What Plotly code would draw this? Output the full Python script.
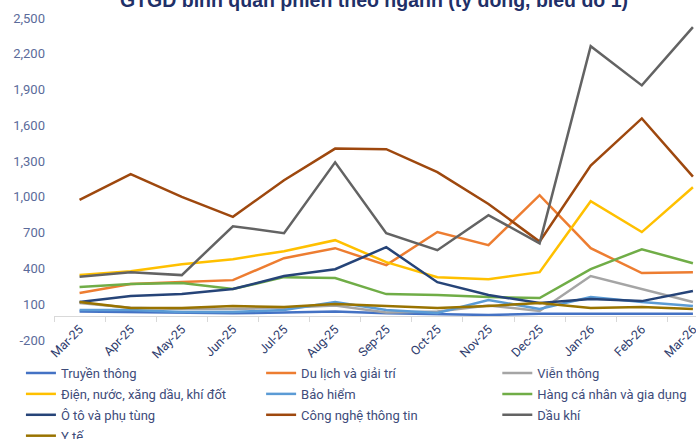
import plotly.graph_objects as go

months = ["Mar-25", "Apr-25", "May-25", "Jun-25", "Jul-25", "Aug-25", "Sep-25",
          "Oct-25", "Nov-25", "Dec-25", "Jan-26", "Feb-26", "Mar-26"]

truyen_thong = [40, 35, 30, 25, 30, 40, 25, 15, 10, 20, 20, 20, 20]
du_lich = [194, 269, 286, 302, 486, 570, 428, 705, 595, 1014, 570, 361, 369]
vien_thong = [110, 70, 60, 60, 70, 90, 30, 40, 90, 43, 336, 227, 118]
dien_nuoc = [344, 377, 436, 478, 545, 637, 453, 327, 310, 369, 964, 705, 1081]
bao_hiem = [52, 52, 35, 35, 52, 118, 52, 27, 136, 60, 160, 118, 85]
hang_ca_nhan = [244, 269, 277, 227, 327, 320, 185, 177, 160, 152, 394, 561, 444]
o_to = [118, 168, 185, 227, 336, 394, 578, 285, 177, 110, 143, 126, 210]
cong_nghe = [975, 1190, 1000, 833, 1140, 1405, 1400, 1208, 941, 625, 1262, 1658, 1170]
dau_khi = [330, 369, 344, 754, 696, 1290, 696, 553, 847, 610, 2264, 1935, 2423]
y_te = [118, 68, 68, 85, 77, 102, 85, 68, 85, 110, 68, 77, 60]

# (name, values, colour, legend column)
series = [
    ("Truyền thông", truyen_thong, "#4472C4", "legend"),
    ("Du lịch và giải trí", du_lich, "#ED7D31", "legend2"),
    ("Viễn thông", vien_thong, "#A5A5A5", "legend3"),
    ("Điện, nước, xăng dầu, khí đốt", dien_nuoc, "#FFC000", "legend"),
    ("Bảo hiểm", bao_hiem, "#5B9BD5", "legend2"),
    ("Hàng cá nhân và gia dụng", hang_ca_nhan, "#70AD47", "legend3"),
    ("Ô tô và phụ tùng", o_to, "#264478", "legend"),
    ("Công nghệ thông tin", cong_nghe, "#9E480E", "legend2"),
    ("Dầu khí", dau_khi, "#636363", "legend3"),
    ("Y tế", y_te, "#997300", "legend"),
]

y_ticks = [-200, 100, 400, 700, 1000, 1300, 1600, 1900, 2200, 2500]
y_ticktext = ["-200", "100", "400", "700", "1,000", "1,300", "1,600", "1,900", "2,200", "2,500"]

title_text = "GTGD bình quân phiên theo ngành (tỷ đồng, biểu đồ 1)"

fig = go.Figure()
for name, vals, color, leg in series:
    fig.add_trace(go.Scatter(x=months, y=vals, name=name, mode="lines", legend=leg,
                             legendgroup=name,
                             line=dict(color=color, width=2.5)))

FONT = "Roboto"
LEGFONT = dict(family=FONT, size=13, color="#3E4C7A")
leg_common = dict(orientation="v", xanchor="left", y=-0.056, yanchor="top",
                  font=LEGFONT, itemwidth=30, tracegroupgap=1,
                  bgcolor="rgba(0,0,0,0)")

fig.update_layout(
    width=696, height=439,
    margin=dict(l=54, r=0, t=18, b=99, autoexpand=False),
    paper_bgcolor="white", plot_bgcolor="white",
    font=dict(family=FONT, size=12, color="#3E4C7A"),
    showlegend=True,
    legend=dict(x=-0.0515, **leg_common),
    legend2=dict(x=0.3226, **leg_common),
    legend3=dict(x=0.6905, **leg_common),
    xaxis=dict(type="category", range=[-0.5, 12.06], anchor="free", automargin=False,
               position=200 / 2700, showline=True, linecolor="#D9D9D9", linewidth=1,
               ticks="outside", ticklen=5, tickcolor="#D9D9D9", tickson="boundaries",
               tickangle=-45, showgrid=False, zeroline=False,
               tickfont=dict(family=FONT, size=12.5, color="#2F3D6E")),
    yaxis=dict(range=[-200, 2500], tickvals=y_ticks, ticktext=y_ticktext, automargin=False,
               showgrid=False, zeroline=False, showline=False, ticklabelstandoff=8,
               tickfont=dict(family=FONT, size=13, color="#5B6B9A")),
    annotations=[dict(text="<b>" + title_text + "</b>", xref="paper", yref="paper",
                      x=0.4985, y=1.055, xanchor="center", yanchor="middle", showarrow=False,
                      font=dict(family="Liberation Sans", size=19.5, color="#1F3068"))],
)

fig.write_html("out.html", config={"displayModeBar": False},
               post_script="document.body.style.margin='0';document.body.style.overflow='hidden';")
